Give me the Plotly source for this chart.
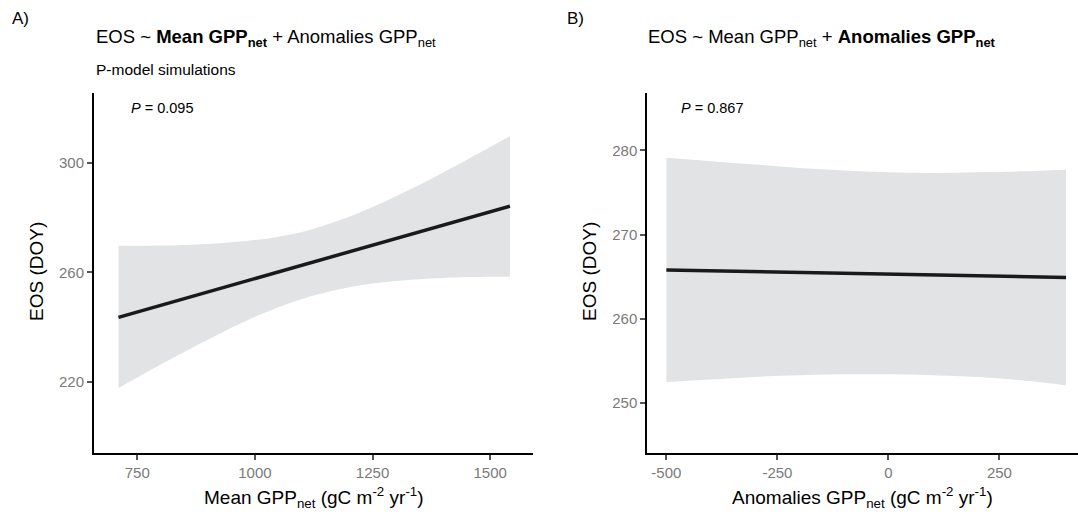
import plotly.graph_objects as go

# ---- Panel A: EOS vs Mean GPP_net ----
gpp_mean_x = [710, 800, 900, 1000, 1100, 1200, 1300, 1400, 1500, 1542]
eos_fit_a = [243.6, 248.0, 252.9, 257.8, 262.6, 267.5, 272.4, 277.3, 282.2, 284.2]
eos_upper_a = [269.7, 269.8, 270.4, 271.8, 274.8, 280.3, 287.8, 296.5, 305.8, 309.7]
eos_lower_a = [217.8, 226.4, 235.4, 243.8, 250.3, 254.6, 256.9, 258.0, 258.4, 258.4]

# ---- Panel B: EOS vs Anomalies GPP_net ----
gpp_anom_x = [-500, -400, -300, -200, -100, 0, 100, 200, 300, 400]
eos_fit_b = [265.8, 265.7, 265.6, 265.5, 265.4, 265.3, 265.2, 265.1, 265.0, 264.9]
eos_upper_b = [279.1, 278.7, 278.3, 277.9, 277.6, 277.4, 277.3, 277.4, 277.5, 277.7]
eos_lower_b = [252.5, 252.8, 253.1, 253.3, 253.4, 253.4, 253.3, 253.1, 252.7, 252.1]

xticks_a = [750, 1000, 1250, 1500]
yticks_a = [220, 260, 300]
xticks_b = [-500, -250, 0, 250]
xticklabels_b = ["-500", "-250", "0", "250"]
yticks_b = [250, 260, 270, 280]

p_a = "0.095"
p_b = "0.867"

FONT = "Liberation Sans, Arial, Helvetica, sans-serif"
RIBBON = "#e2e3e5"
LINE = "#1a1a1a"
TICKC = "#7a7a7a"

fig = go.Figure()

def add_panel(x, fit, up, lo, xa, ya):
    fig.add_trace(go.Scatter(
        x=x, y=lo, mode="lines", line=dict(width=0, shape="spline", color=RIBBON),
        hoverinfo="skip", showlegend=False, xaxis=xa, yaxis=ya))
    fig.add_trace(go.Scatter(
        x=x, y=up, mode="lines", line=dict(width=0, shape="spline", color=RIBBON),
        fill="tonexty", fillcolor=RIBBON,
        hoverinfo="skip", showlegend=False, xaxis=xa, yaxis=ya))
    fig.add_trace(go.Scatter(
        x=x, y=fit, mode="lines", line=dict(color=LINE, width=3.5),
        showlegend=False, xaxis=xa, yaxis=ya))

add_panel(gpp_mean_x, eos_fit_a, eos_upper_a, eos_lower_a, "x", "y")
add_panel(gpp_anom_x, eos_fit_b, eos_upper_b, eos_lower_b, "x2", "y2")

W, H = 1078, 515
ytop, ybot = 1 - 93 / H, 1 - 452.7 / H

axis_common = dict(
    showline=True, linecolor="black", linewidth=2, mirror=False,
    showgrid=False, zeroline=False, ticks="outside", ticklen=5,
    tickwidth=2, tickcolor="#555555",
    tickfont=dict(family=FONT, size=15, color=TICKC),
)

fig.update_layout(
    width=W, height=H, autosize=False,
    margin=dict(l=0, r=0, t=0, b=0),
    paper_bgcolor="white", plot_bgcolor="white",
    font=dict(family=FONT, color="black"),
    xaxis=dict(domain=[94 / W, 533 / W], range=[658, 1591],
               tickvals=xticks_a, anchor="y", **axis_common),
    yaxis=dict(domain=[ybot, ytop], range=[194.2, 325.5],
               tickvals=yticks_a, anchor="x", **axis_common),
    xaxis2=dict(domain=[647.3 / W, 1.0], range=[-543, 427],
                tickvals=xticks_b, ticktext=xticklabels_b, anchor="y2", **axis_common),
    yaxis2=dict(domain=[ybot, ytop], range=[244.1, 286.8],
                tickvals=yticks_b, anchor="x2", **axis_common),
)

def ann(text, x, y, size, xanchor="left", yanchor="middle", angle=0):
    fig.add_annotation(text=text, x=x / W, y=1 - y / H, xref="paper", yref="paper",
                       showarrow=False, xanchor=xanchor, yanchor=yanchor,
                       textangle=angle, font=dict(family=FONT, size=size, color="black"))

# panel labels
ann("A)", 10, 18, 17)
ann("B)", 565, 18, 17)
# titles
ann("EOS ~ <b>Mean GPP<sub>net</sub></b> + Anomalies GPP<sub>net</sub>", 94, 38, 18.5)
ann("EOS ~ Mean GPP<sub>net</sub> + <b>Anomalies GPP<sub>net</sub></b>", 646, 38, 18.5)
ann("P-model simulations", 94, 70, 15.5)
# p values
ann("<i>P</i> = " + p_a, 129, 108, 14.5)
ann("<i>P</i> = " + p_b, 679, 108, 14.5)
# axis titles
ann("Mean GPP<sub>net</sub> (gC m<sup>-2</sup> yr<sup>-1</sup>)", 313.5, 497, 19, xanchor="center")
ann("Anomalies GPP<sub>net</sub> (gC m<sup>-2</sup> yr<sup>-1</sup>)", 862.7, 497, 19, xanchor="center")
ann("EOS (DOY)", 36, 272, 19, xanchor="center", angle=-90)
ann("EOS (DOY)", 589, 272, 19, xanchor="center", angle=-90)

fig.write_html("out.html")
